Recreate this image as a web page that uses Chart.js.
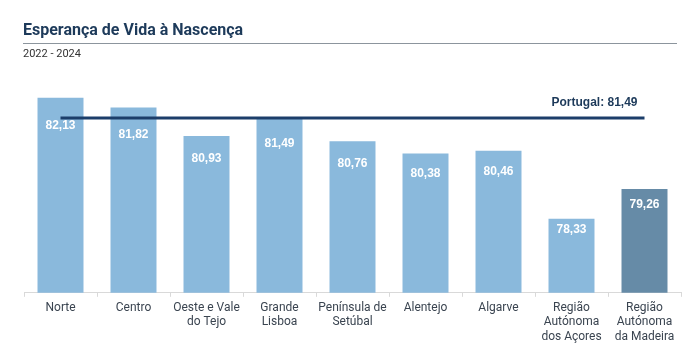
<!DOCTYPE html>
<html><head><meta charset="utf-8">
<script src="https://cdn.jsdelivr.net/npm/chart.js@4"></script>
<style>
html,body{margin:0;padding:0;background:#fff;}
#wrap{position:relative;width:700px;height:357px;}
#title{position:absolute;left:23px;top:20px;width:654px;font:bold 16px Roboto,sans-serif;color:#1d3a5a;padding-bottom:4px;border-bottom:1px solid #8c959d;}
#sub{position:absolute;left:23px;top:47px;font:11px Roboto,sans-serif;color:#333;}
canvas{position:absolute;left:0;top:0;}
</style></head>
<body><div id="wrap">
<canvas id="c" width="700" height="357"></canvas>
<div id="title">Esperança de Vida à Nascença</div>
<div id="sub">2022 - 2024</div>
</div>
<script>
const categories = [["Norte"],["Centro"],["Oeste e Vale","do Tejo"],["Grande","Lisboa"],["Península de","Setúbal"],["Alentejo"],["Algarve"],["Região","Autónoma","dos Açores"],["Região","Autónoma","da Madeira"]];
const values = [82.13, 81.82, 80.93, 81.49, 80.76, 80.38, 80.46, 78.33, 79.26];
const portugal = [81.49, 81.49, 81.49, 81.49, 81.49, 81.49, 81.49, 81.49, 81.49];
const portugalLabel = "Portugal: 81,49";
const barColors = ["#8ab9dc","#8ab9dc","#8ab9dc","#8ab9dc","#8ab9dc","#8ab9dc","#8ab9dc","#8ab9dc","#668ba7"];
const yMin = 76, yMax = 83;

const fmt = v => v.toFixed(2).replace('.', ',');

const labelPlugin = {
  id: 'labels',
  afterDatasetsDraw(chart) {
    const ctx = chart.ctx;
    const xs = chart.scales.x, ys = chart.scales.y;
    ctx.save();
    ctx.font = 'bold 12px "Liberation Sans", Arial, sans-serif';
    ctx.fillStyle = '#ffffff';
    ctx.textAlign = 'center';
    ctx.textBaseline = 'middle';
    values.forEach((v, i) => {
      const x = xs.getPixelForValue(i);
      const top = ys.getPixelForValue(v);
      const base = ys.getPixelForValue(yMin);
      ctx.fillText(fmt(v), x, top + 0.14 * (base - top) + 1);
    });
    ctx.fillStyle = '#1d3a5a';
    ctx.textAlign = 'right';
    ctx.fillText(portugalLabel, xs.getPixelForValue(categories.length - 1) - 7, ys.getPixelForValue(portugal[0]) - 15);
    ctx.restore();
  }
};

new Chart(document.getElementById('c'), {
  data: {
    labels: categories,
    datasets: [
      { type: 'line', data: portugal, borderColor: '#1c3e6a', borderWidth: 3, pointRadius: 0, order: 0, fill: false },
      { type: 'bar', data: values, backgroundColor: barColors, barPercentage: 0.63, categoryPercentage: 1, order: 1 }
    ]
  },
  options: {
    responsive: false,
    animation: false,
    layout: { padding: { left: 24, right: 19, top: 70, bottom: 9 } },
    plugins: { legend: { display: false }, tooltip: { enabled: false } },
    scales: {
      y: { display: false, min: yMin, max: yMax },
      x: {
        grid: { display: true, drawOnChartArea: false, offset: true, tickLength: 4, color: '#d9d9d9' },
        border: { display: true, color: '#d9d9d9' },
        ticks: { color: '#3a4450', font: { family: 'Roboto', size: 12 }, padding: 4, maxRotation: 0, autoSkip: false }
      }
    }
  },
  plugins: [labelPlugin]
});
</script>
</body></html>
